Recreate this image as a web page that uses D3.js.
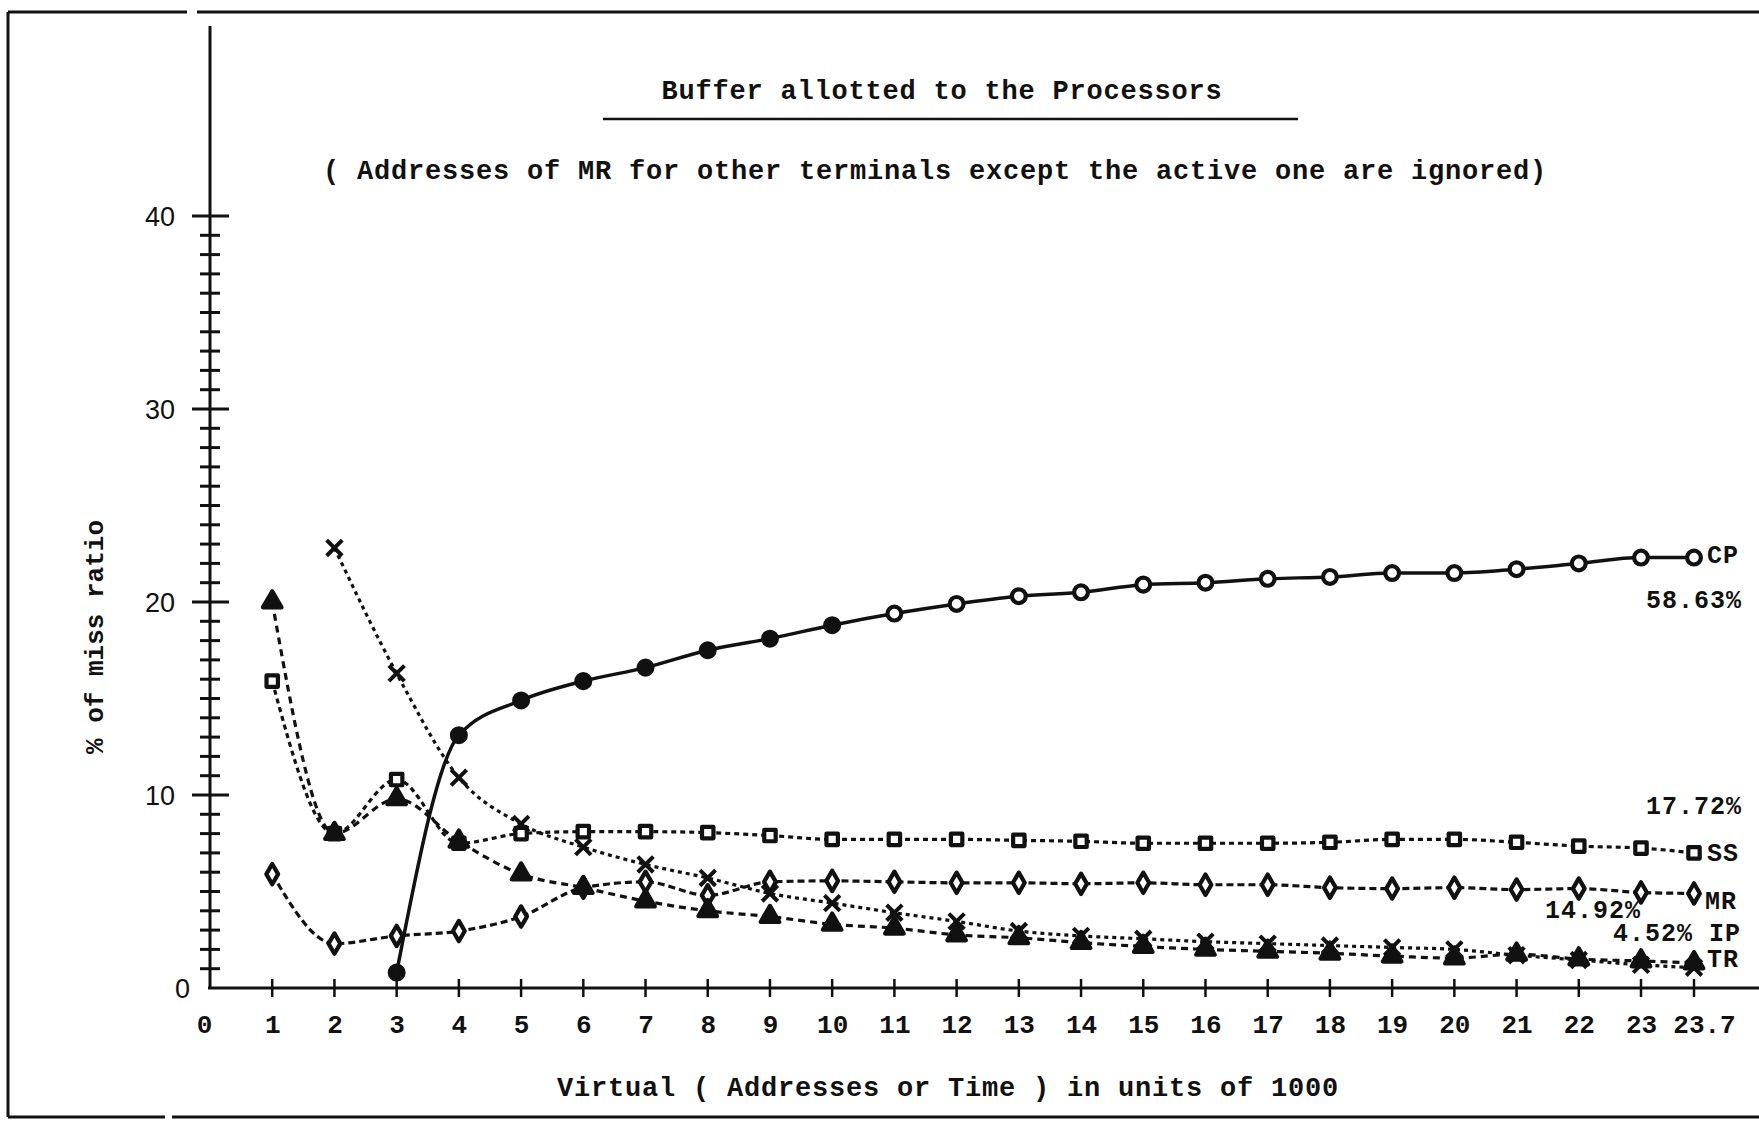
<!DOCTYPE html>
<html>
<head>
<meta charset="utf-8">
<script src="https://cdn.jsdelivr.net/npm/d3@7"></script>
<style>
  html, body { margin: 0; padding: 0; background: #fff; }
  svg { display: block; }
  .tw { font-family: "Liberation Mono", "DejaVu Sans Mono", monospace; font-weight: bold; fill: #111; }
  .ylab { font-family: "Liberation Sans", Arial, sans-serif; fill: #111; }
</style>
</head>
<body>
<svg id="chart" width="1759" height="1130"></svg>
<script>
// x positions (thousands of virtual addresses)
const xValues = [1, 2, 3, 4, 5, 6, 7, 8, 9, 10, 11, 12, 13, 14, 15, 16, 17, 18, 19, 20, 21, 22, 23, 23.7];
const xTickValues = [0, 1, 2, 3, 4, 5, 6, 7, 8, 9, 10, 11, 12, 13, 14, 15, 16, 17, 18, 19, 20, 21, 22, 23, 23.7];
const yTickLabels = [0, 10, 20, 30, 40];

// % of miss ratio (null = no point)
const cpValues = [null, null, 0.8, 13.1, 14.9, 15.9, 16.6, 17.5, 18.1, 18.8, 19.4, 19.9, 20.3, 20.5, 20.9, 21.0, 21.2, 21.3, 21.5, 21.5, 21.7, 22.0, 22.3, 22.3];
const ssValues = [15.9, 8.0, 10.8, 7.5, 8.0, 8.1, 8.1, 8.05, 7.9, 7.7, 7.7, 7.7, 7.65, 7.6, 7.5, 7.5, 7.5, 7.55, 7.7, 7.7, 7.55, 7.35, 7.25, 7.0];
const mrValues = [5.9, 2.3, 2.7, 2.95, 3.7, 5.2, 5.5, 4.8, 5.5, 5.55, 5.5, 5.45, 5.45, 5.4, 5.45, 5.35, 5.35, 5.2, 5.15, 5.2, 5.1, 5.15, 4.95, 4.9];
const ipValues = [20.0, 8.0, 9.8, 7.6, 5.9, 5.2, 4.5, 4.0, 3.7, 3.3, 3.1, 2.75, 2.6, 2.35, 2.15, 2.0, 1.9, 1.8, 1.65, 1.55, 1.75, 1.5, 1.4, 1.3];
const trValues = [null, 22.8, 16.3, 10.9, 8.5, 7.3, 6.4, 5.7, 4.9, 4.4, 3.9, 3.45, 2.95, 2.7, 2.55, 2.4, 2.3, 2.2, 2.1, 2.0, 1.7, 1.45, 1.2, 1.05];

const ink = '#111';
const vis = d3.select('#chart');

// hand drawn axis: last interval (23 -> 23.7) is a bit stretched
const xScale = d3.scaleLinear().domain([0, 23, 23.7]).range([210, 1641, 1694]);
const yScale = d3.scaleLinear().domain([0, 40]).range([988, 216]);

// page frame of the scan
const frame = vis.append('g').attr('stroke', ink).attr('stroke-width', 3).attr('fill', 'none');
frame.append('path').attr('d', 'M8,12 L8,1117');
frame.append('path').attr('d', 'M8,12 L187,12 M197,12 L1759,12');
frame.append('path').attr('d', 'M8,1117 L165,1117 M172,1117 L1759,1117');

// titles
vis.append('text').attr('class', 'tw')
  .attr('x', 942).attr('y', 99)
  .attr('text-anchor', 'middle')
  .style('font-size', '27px').style('letter-spacing', '0.8px')
  .text('Buffer allotted to the Processors');
vis.append('line')
  .attr('x1', 603).attr('x2', 1298).attr('y1', 119).attr('y2', 119)
  .attr('stroke', ink).attr('stroke-width', 2.5);
vis.append('text').attr('class', 'tw')
  .attr('x', 935).attr('y', 179)
  .attr('text-anchor', 'middle')
  .style('font-size', '27px').style('letter-spacing', '0.8px')
  .text('( Addresses of MR for other terminals except the active one are ignored)');

// y axis
const x0 = xScale(0);
vis.append('line')
  .attr('x1', x0).attr('x2', x0).attr('y1', 26).attr('y2', yScale(0))
  .attr('stroke', ink).attr('stroke-width', 3);

vis.append('g')
  .selectAll('line')
  .data(d3.range(1, 41))
  .join('line')
  .attr('x1', d => d % 10 === 0 ? x0 - 18 : x0 - 10)
  .attr('x2', d => d % 10 === 0 ? x0 + 19 : x0 + 10)
  .attr('y1', d => yScale(d)).attr('y2', d => yScale(d))
  .attr('stroke', ink).attr('stroke-width', 3);

const yAxis = vis.append('g')
  .attr('transform', 'translate(' + x0 + ',0)')
  .call(d3.axisLeft(yScale).tickValues(yTickLabels).tickSize(0).tickFormat(d3.format('d')));
yAxis.select('.domain').remove();
yAxis.selectAll('text')
  .attr('class', 'ylab')
  .attr('x', d => d === 0 ? -20 : -35)
  .attr('dy', '0.36em')
  .style('font-size', '27px');

// x axis
vis.append('line')
  .attr('x1', x0 - 2).attr('x2', 1759).attr('y1', yScale(0)).attr('y2', yScale(0))
  .attr('stroke', ink).attr('stroke-width', 3);
vis.append('g')
  .selectAll('line')
  .data(xTickValues.slice(1))
  .join('line')
  .attr('x1', d => xScale(d)).attr('x2', d => xScale(d))
  .attr('y1', yScale(0) - 9).attr('y2', yScale(0) + 9)
  .attr('stroke', ink).attr('stroke-width', 2.5);

const xAxis = vis.append('g')
  .attr('transform', 'translate(0,' + yScale(0) + ')')
  .call(d3.axisBottom(xScale).tickValues(xTickValues).tickSize(0).tickFormat(d => String(d)));
xAxis.select('.domain').remove();
xAxis.selectAll('text')
  .attr('class', 'tw')
  .attr('y', 45).attr('dy', 0)
  .attr('dx', d => d === 0 ? -6 : (d === 23.7 ? 10 : 0))
  .style('font-size', '26px');

// axis titles
vis.append('text').attr('class', 'tw')
  .attr('x', 948).attr('y', 1096)
  .attr('text-anchor', 'middle')
  .style('font-size', '27px').style('letter-spacing', '0.8px')
  .text('Virtual ( Addresses or Time ) in units of 1000');
vis.append('text').attr('class', 'tw')
  .attr('transform', 'translate(103,637) rotate(-90)')
  .attr('text-anchor', 'middle')
  .style('font-size', '26px').style('letter-spacing', '0px')
  .text('% of miss ratio');

// series
const series = [
  { name: 'CP', values: cpValues, dash: null, symbol: 'circle' },
  { name: 'SS', values: ssValues, dash: '5,4', symbol: 'square' },
  { name: 'MR', values: mrValues, dash: '7,4', symbol: 'diamond' },
  { name: 'IP', values: ipValues, dash: '7,5', symbol: 'triangle' },
  { name: 'TR', values: trValues, dash: '4,4', symbol: 'times' }
];

const lineGen = d3.line()
  .defined(d => d.v !== null)
  .x(d => xScale(d.x))
  .y(d => yScale(d.v))
  .curve(d3.curveMonotoneX);

series.forEach(s => {
  const pts = xValues.map((x, i) => ({ x: x, v: s.values[i] }));
  vis.append('path')
    .attr('d', lineGen(pts))
    .attr('fill', 'none')
    .attr('stroke', ink)
    .attr('stroke-width', s.name === 'CP' ? 3.5 : 3.2)
    .attr('stroke-dasharray', s.dash);

  const g = vis.append('g');
  const used = pts.filter(d => d.v !== null);
  const sym = {
    circle: d3.symbolCircle, square: d3.symbolSquare, diamond: d3.symbolDiamond,
    triangle: d3.symbolTriangle, times: d3.symbolTimes
  }[s.symbol];
  const size = { circle: 150, square: 130, diamond: 120, triangle: 150, times: 160 }[s.symbol];
  g.selectAll('path')
    .data(used)
    .join('path')
    .attr('transform', d => 'translate(' + xScale(d.x) + ',' + yScale(d.v) + ')')
    .attr('d', d3.symbol().type(sym).size(size))
    .attr('fill', d => {
      if (s.symbol === 'triangle') return ink;
      if (s.symbol === 'times') return 'none';
      if (s.symbol === 'circle') return d.x <= 10 ? ink : '#fff';
      return '#fff';
    })
    .attr('stroke', ink)
    .attr('stroke-linejoin', 'round')
    .attr('stroke-width', s.symbol === 'times' ? 4 : 4.2);
});

// end labels and percentages
const endX = xScale(23.7);
const labels = [
  { t: 'CP', x: endX + 13, y: yScale(22.3) + 5, a: 'start' },
  { t: '58.63%', x: 1742, y: yScale(19.7), a: 'end' },
  { t: '17.72%', x: 1742, y: yScale(9.0), a: 'end' },
  { t: 'SS', x: endX + 13, y: yScale(6.6), a: 'start' },
  { t: 'MR', x: endX + 11, y: yScale(4.1), a: 'start' },
  { t: '14.92%', x: 1641, y: yScale(3.65), a: 'end' },
  { t: '4.52%', x: 1693, y: yScale(2.45), a: 'end' },
  { t: 'IP', x: endX + 15, y: yScale(2.45), a: 'start' },
  { t: 'TR', x: endX + 13, y: yScale(1.1), a: 'start' }
];
vis.append('g')
  .selectAll('text')
  .data(labels)
  .join('text')
  .attr('class', 'tw')
  .attr('x', d => d.x).attr('y', d => d.y)
  .attr('text-anchor', d => d.a)
  .style('font-size', '25px').style('letter-spacing', '1px')
  .text(d => d.t);
</script>
</body>
</html>
